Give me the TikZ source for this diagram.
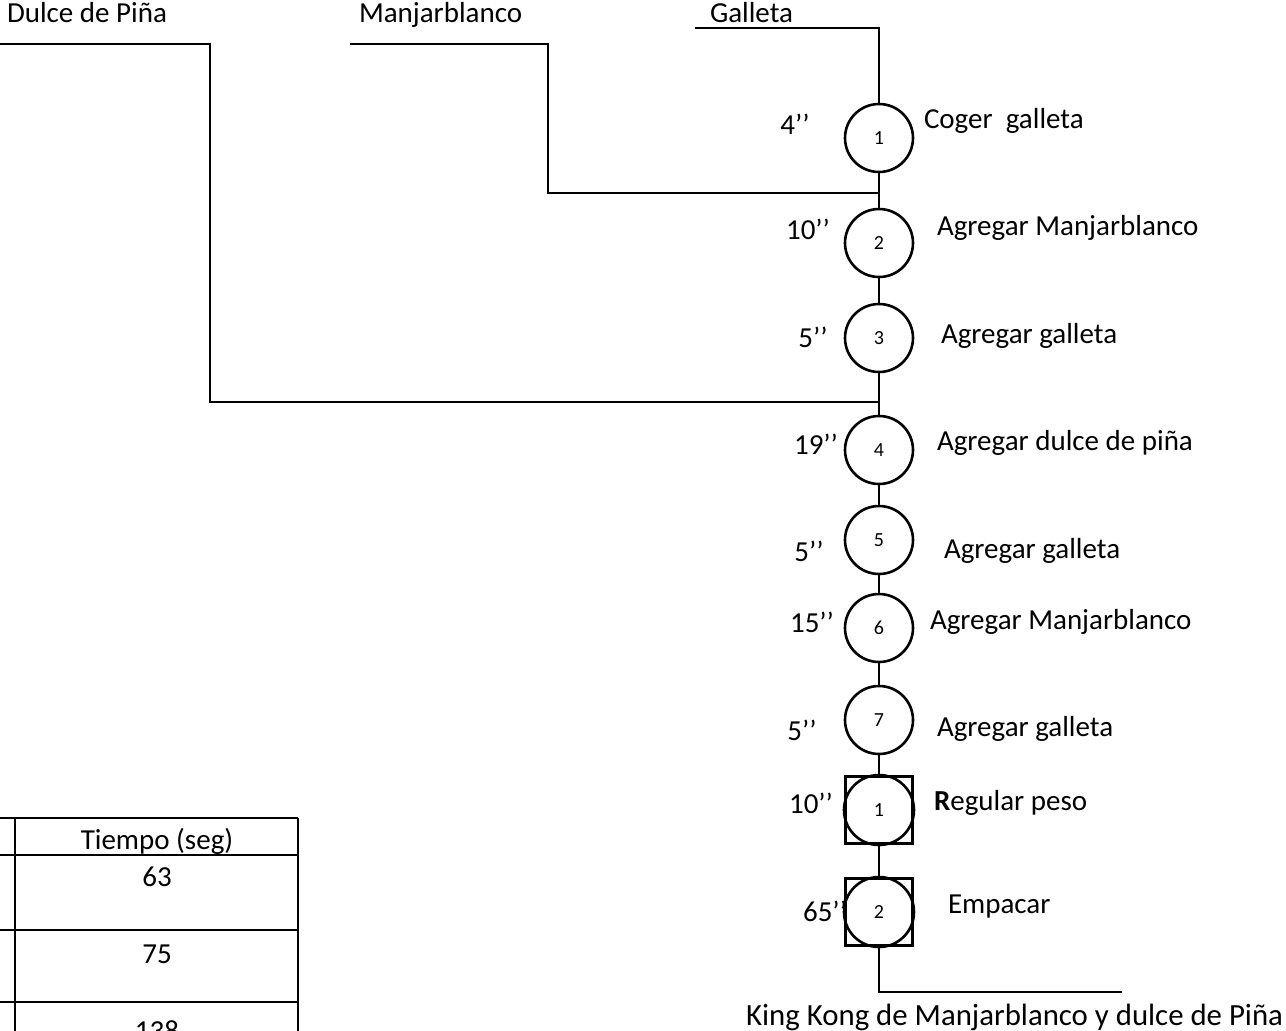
\documentclass[tikz,border=0pt]{standalone}
\usepackage{fontspec}
\setmainfont{Carlito}

\tikzset{
    opcirc/.style={circle, draw, line width=1.3pt, minimum size=34pt,
        inner sep=0pt, font=\fontsize{10}{12}\selectfont},
    opbox/.style={rectangle, draw, line width=1.3pt, minimum size=33.5pt,
        inner sep=0pt},
    opring/.style={circle, draw, line width=1.3pt, minimum size=35pt,
        inner sep=0pt, font=\fontsize{10}{12}\selectfont},
    secs/.style={font=\fontsize{14.5}{17}\selectfont, inner sep=0pt},
    task/.style={font=\fontsize{14.5}{17}\selectfont, anchor=west, inner sep=0pt},
    feed/.style={font=\fontsize{14.5}{17}\selectfont, anchor=base west, inner sep=0pt},
    cell/.style={font=\fontsize{14.5}{17}\selectfont, inner sep=0pt},
}

\begin{document}
\begin{tikzpicture}[x=0.5pt, y=-0.5pt, line width=1pt]
    \useasboundingbox (0,0) rectangle (1286,1030);

    % operations and inspections down the main line
    \node[opcirc] (op1) at (879,138) {1};
    \node[opcirc] (op2) at (879,243) {2};
    \node[opcirc] (op3) at (879,338) {3};
    \node[opcirc] (op4) at (879,450) {4};
    \node[opcirc] (op5) at (879,540) {5};
    \node[opcirc] (op6) at (879,628) {6};
    \node[opcirc] (op7) at (879,720) {7};
    \node[opbox] (in1) at (879,810) {};
    \node[opring] (in1c) at (in1) {1};
    \node[opbox] (in2) at (879,912) {};
    \node[opring] (in2c) at (in2) {2};

    \draw (op1) -- (op2) -- (op3) -- (op4) -- (op5) -- (op6) -- (op7)
        -- (in1) -- (in2);

    % raw materials coming in
    \coordinate (galA) at (695,28);
    \coordinate (galB) at (879,28);
    \coordinate (manA) at (350,44);
    \coordinate (manB) at (548,44);
    \coordinate (manJ) at (879,193);
    \coordinate (dulA) at (0,44);
    \coordinate (dulB) at (210,44);
    \coordinate (dulJ) at (879,402);
    \draw (galA) -- (galB) -- (op1);
    \draw (manA) -- (manB) |- (manJ);
    \draw (dulA) -- (dulB) |- (dulJ);

    \node[feed] (galT) at (709,22) {Galleta};
    \node[feed] (manT) at (358,22) {Manjarblanco};
    \node[feed] (dulT) at (6,22) {Dulce de Piña};

    % finished product
    \coordinate (outE) at (1122,992);
    \draw (in2.south) |- (outE);
    \node[secs, anchor=east, font=\fontsize{15.4}{18}\selectfont] (prod)
        at (1284,1017) {King Kong de Manjarblanco y dulce de Piña};

    % times
    \node[secs] (t1) at (795,124) {4’’};
    \node[secs] (t2) at (808,229) {10’’};
    \node[secs] (t3) at (813,337) {5’’};
    \node[secs] (t4) at (816,444) {19’’};
    \node[secs] (t5) at (809,551) {5’’};
    \node[secs] (t6) at (812,622) {15’’};
    \node[secs] (t7) at (802,730) {5’’};
    \node[secs] (t8) at (811,803) {10’’};
    \node[secs] (t9) at (825,911) {65’’};

    % activities
    \node[task] (a1) at (923,121) {Coger~ galleta};
    \node[task] (a2) at (936,228) {Agregar Manjarblanco};
    \node[task] (a3) at (940,336) {Agregar galleta};
    \node[task] (a4) at (936,443) {Agregar dulce de piña};
    \node[task] (a5) at (943,551) {Agregar galleta};
    \node[task] (a6) at (929,622) {Agregar Manjarblanco};
    \node[task] (a7) at (936,729) {Agregar galleta};
    \node[task] (a8) at (933,803) {\textbf{R}egular peso};
    \node[task] (a9) at (947,907) {Empacar};

    % summary table
    \foreach \r in {818,855,930,1002}
        \draw[line width=1.2pt] (0,\r) -- (298,\r);
    \foreach \c in {15,298}
        \draw[line width=1.2pt] (\c,818) -- (\c,1040);
    \node[cell] (hdr) at (157,841) {Tiempo (seg)};
    \node[cell] (v1) at (157,877) {63};
    \node[cell] (v2) at (157,954) {75};
    \node[cell] (v3) at (157,1031) {138};
\end{tikzpicture}
\end{document}
